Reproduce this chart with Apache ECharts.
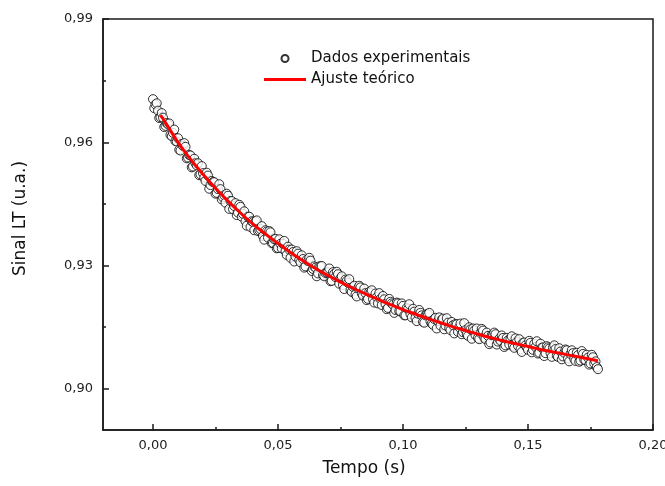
<!DOCTYPE html>
<html>
<head>
<meta charset="utf-8">
<script src="https://cdn.jsdelivr.net/npm/echarts@6/dist/echarts.min.js"></script>
<style>
  html, body { margin: 0; padding: 0; background: #fff; }
  #chart { width: 665px; height: 486px; }
</style>
</head>
<body>
<div id="chart"></div>
<script>
// experimental points, whole milliseconds: time (s) and LT signal (u.a.)
var tempo = [
  0.000,0.001,0.002,0.003,0.004,0.005,0.006,0.007,0.008,0.009,
  0.010,0.011,0.012,0.013,0.014,0.015,0.016,0.017,0.018,0.019,
  0.020,0.021,0.022,0.023,0.024,0.025,0.026,0.027,0.028,0.029,
  0.030,0.031,0.032,0.033,0.034,0.035,0.036,0.037,0.038,0.039,
  0.040,0.041,0.042,0.043,0.044,0.045,0.046,0.047,0.048,0.049,
  0.050,0.051,0.052,0.053,0.054,0.055,0.056,0.057,0.058,0.059,
  0.060,0.061,0.062,0.063,0.064,0.065,0.066,0.067,0.068,0.069,
  0.070,0.071,0.072,0.073,0.074,0.075,0.076,0.077,0.078,0.079,
  0.080,0.081,0.082,0.083,0.084,0.085,0.086,0.087,0.088,0.089,
  0.090,0.091,0.092,0.093,0.094,0.095,0.096,0.097,0.098,0.099,
  0.100,0.101,0.102,0.103,0.104,0.105,0.106,0.107,0.108,0.109,
  0.110,0.111,0.112,0.113,0.114,0.115,0.116,0.117,0.118,0.119,
  0.120,0.121,0.122,0.123,0.124,0.125,0.126,0.127,0.128,0.129,
  0.130,0.131,0.132,0.133,0.134,0.135,0.136,0.137,0.138,0.139,
  0.140,0.141,0.142,0.143,0.144,0.145,0.146,0.147,0.148,0.149,
  0.150,0.151,0.152,0.153,0.154,0.155,0.156,0.157,0.158,0.159,
  0.160,0.161,0.162,0.163,0.164,0.165,0.166,0.167,0.168,0.169,
  0.170,0.171,0.172,0.173,0.174,0.175,0.176,0.177,0.178
];
var sinal = [
  0.9705,0.9692,0.9677,0.9661,0.9660,0.9640,0.9644,0.9618,0.9623,0.9603,
  0.9610,0.9580,0.9591,0.9589,0.9563,0.9568,0.9541,0.9549,0.9549,0.9522,
  0.9525,0.9506,0.9519,0.9496,0.9503,0.9475,0.9486,0.9486,0.9466,0.9453,
  0.9470,0.9457,0.9437,0.9452,0.9429,0.9443,0.9426,0.9408,0.9419,0.9394,
  0.9406,0.9407,0.9384,0.9389,0.9372,0.9386,0.9368,0.9381,0.9355,0.9365,
  0.9343,0.9353,0.9353,0.9335,0.9346,0.9319,0.9333,0.9322,0.9329,0.9308,
  0.9316,0.9298,0.9311,0.9312,0.9292,0.9295,0.9281,0.9298,0.9277,0.9282,
  0.9284,0.9262,0.9284,0.9272,0.9279,0.9269,0.9253,0.9266,0.9258,0.9240,
  0.9248,0.9230,0.9245,0.9247,0.9227,0.9233,0.9219,0.9234,0.9218,0.9232,
  0.9208,0.9219,0.9226,0.9207,0.9197,0.9212,0.9205,0.9192,0.9208,0.9189,
  0.9202,0.9179,0.9194,0.9182,0.9195,0.9173,0.9183,0.9185,0.9163,0.9179,
  0.9181,0.9164,0.9156,0.9173,0.9165,0.9154,0.9171,0.9154,0.9161,0.9143,
  0.9155,0.9158,0.9139,0.9159,0.9138,0.9143,0.9129,0.9145,0.9147,0.9131,
  0.9124,0.9136,0.9142,0.9121,0.9129,0.9113,0.9131,0.9133,0.9115,0.9117,
  0.9124,0.9106,0.9118,0.9122,0.9105,0.9123,0.9105,0.9096,0.9112,0.9106,
  0.9095,0.9112,0.9095,0.9102,0.9086,0.9110,0.9101,0.9087,0.9101,0.9087,
  0.9101,0.9097,0.9078,0.9091,0.9079,0.9096,0.9074,0.9085,0.9087,0.9068,
  0.9082,0.9069,0.9085,0.9070,0.9076,0.9062,0.9077,0.9067,0.9048
];

// experimental points, half milliseconds
var tempoMeio = [
  0.0005,0.0015,0.0025,0.0035,0.0045,0.0055,0.0065,0.0075,0.0085,0.0095,
  0.0105,0.0115,0.0125,0.0135,0.0145,0.0155,0.0165,0.0175,0.0185,0.0195,
  0.0205,0.0215,0.0225,0.0235,0.0245,0.0255,0.0265,0.0275,0.0285,0.0295,
  0.0305,0.0315,0.0325,0.0335,0.0345,0.0355,0.0365,0.0375,0.0385,0.0395,
  0.0405,0.0415,0.0425,0.0435,0.0445,0.0455,0.0465,0.0475,0.0485,0.0495,
  0.0505,0.0515,0.0525,0.0535,0.0545,0.0555,0.0565,0.0575,0.0585,0.0595,
  0.0605,0.0615,0.0625,0.0635,0.0645,0.0655,0.0665,0.0675,0.0685,0.0695,
  0.0705,0.0715,0.0725,0.0735,0.0745,0.0755,0.0765,0.0775,0.0785,0.0795,
  0.0805,0.0815,0.0825,0.0835,0.0845,0.0855,0.0865,0.0875,0.0885,0.0895,
  0.0905,0.0915,0.0925,0.0935,0.0945,0.0955,0.0965,0.0975,0.0985,0.0995,
  0.1005,0.1015,0.1025,0.1035,0.1045,0.1055,0.1065,0.1075,0.1085,0.1095,
  0.1105,0.1115,0.1125,0.1135,0.1145,0.1155,0.1165,0.1175,0.1185,0.1195,
  0.1205,0.1215,0.1225,0.1235,0.1245,0.1255,0.1265,0.1275,0.1285,0.1295,
  0.1305,0.1315,0.1325,0.1335,0.1345,0.1355,0.1365,0.1375,0.1385,0.1395,
  0.1405,0.1415,0.1425,0.1435,0.1445,0.1455,0.1465,0.1475,0.1485,0.1495,
  0.1505,0.1515,0.1525,0.1535,0.1545,0.1555,0.1565,0.1575,0.1585,0.1595,
  0.1605,0.1615,0.1625,0.1635,0.1645,0.1655,0.1665,0.1675,0.1685,0.1695,
  0.1705,0.1715,0.1725,0.1735,0.1745,0.1755,0.1765,0.1775
];
var sinalMeio = [
  0.9683,0.9695,0.9659,0.9671,0.9637,0.9647,0.9646,0.9615,0.9631,0.9602,
  0.9582,0.9596,0.9598,0.9561,0.9569,0.9539,0.9560,0.9544,0.9520,0.9542,
  0.9514,0.9526,0.9487,0.9506,0.9503,0.9477,0.9498,0.9461,0.9471,0.9475,
  0.9438,0.9457,0.9445,0.9423,0.9448,0.9419,0.9432,0.9397,0.9419,0.9408,
  0.9386,0.9410,0.9386,0.9396,0.9363,0.9383,0.9384,0.9355,0.9364,0.9342,
  0.9364,0.9342,0.9360,0.9326,0.9339,0.9339,0.9310,0.9335,0.9314,0.9325,
  0.9295,0.9314,0.9319,0.9287,0.9298,0.9274,0.9298,0.9299,0.9274,0.9283,
  0.9293,0.9263,0.9280,0.9285,0.9256,0.9274,0.9243,0.9263,0.9267,0.9236,
  0.9251,0.9225,0.9251,0.9232,0.9244,0.9216,0.9236,0.9240,0.9210,0.9223,
  0.9233,0.9204,0.9218,0.9194,0.9219,0.9208,0.9185,0.9210,0.9189,0.9208,
  0.9179,0.9197,0.9206,0.9174,0.9188,0.9165,0.9192,0.9179,0.9161,0.9182,
  0.9185,0.9159,0.9170,0.9147,0.9174,0.9168,0.9145,0.9172,0.9148,0.9163,
  0.9135,0.9157,0.9150,0.9133,0.9160,0.9133,0.9150,0.9122,0.9142,0.9147,
  0.9121,0.9146,0.9125,0.9137,0.9109,0.9131,0.9137,0.9108,0.9122,0.9130,
  0.9102,0.9124,0.9108,0.9128,0.9100,0.9114,0.9121,0.9090,0.9113,0.9101,
  0.9117,0.9089,0.9110,0.9116,0.9088,0.9100,0.9080,0.9104,0.9098,0.9078,
  0.9106,0.9081,0.9099,0.9072,0.9088,0.9094,0.9067,0.9094,0.9073,0.9088,
  0.9066,0.9092,0.9071,0.9083,0.9059,0.9083,0.9062,0.9053
];

// fitted curve
var tempoAjuste = [
  0.003,0.005,0.010,0.015,0.020,0.025,0.030,0.035,0.040,0.045,
  0.050,0.055,0.060,0.065,0.070,0.075,0.080,0.085,0.090,0.095,
  0.100,0.105,0.110,0.115,0.120,0.125,0.130,0.135,0.140,0.145,
  0.150,0.155,0.160,0.165,0.170,0.175,0.178
];
var ajuste = [
  0.9666,0.9648,0.9600,0.9559,0.9522,0.9488,0.9457,0.9428,0.9401,0.9377,
  0.9354,0.9332,0.9312,0.9293,0.9276,0.9260,0.9245,0.9231,0.9218,0.9205,
  0.9193,0.9182,0.9171,0.9161,0.9151,0.9142,0.9133,0.9125,0.9117,0.9110,
  0.9103,0.9096,0.9090,0.9084,0.9078,0.9072,0.9068
];

// ticks
var xTicks = [0.00, 0.05, 0.10, 0.15, 0.20];
var xMinorTicks = [0.025, 0.075, 0.125, 0.175];
var yTicks = [0.90, 0.93, 0.96, 0.99];
var yMinorTicks = [0.915, 0.945, 0.975];

var fonte = "DejaVu Sans";
function virgula(v) {
  return v.toFixed(2).replace(".", ",");
}

var dadosExp = [];
tempo.forEach(function (t, i) {
  dadosExp.push([t, sinal[i]]);
  if (i < tempoMeio.length) dadosExp.push([tempoMeio[i], sinalMeio[i]]);
});
var dadosAjuste = tempoAjuste.map(function (t, i) { return [t, ajuste[i]]; });

var cinza = "#1a1a1a";
var chart = echarts.init(document.getElementById("chart"), null, { renderer: "canvas" });
chart.setOption({
  animation: false,
  backgroundColor: "#fff",
  grid: {
    left: 103, right: 12, top: 19, bottom: 56,
    show: true, borderColor: cinza, borderWidth: 1.5,
    outerBoundsMode: "none"
  },
  legend: {
    left: 264, top: 51, padding: 0,
    orient: "vertical",
    itemWidth: 42, itemHeight: 7, itemGap: 6,
    textStyle: { fontFamily: fonte, fontSize: 15, color: "#111" },
    data: [
      { name: "Dados experimentais", icon: "circle" },
      { name: "Ajuste teórico", icon: "path://M0,0 L42,0 L42,3 L0,3 Z" }
    ]
  },
  xAxis: [
    {
      type: "value", min: -0.02, max: 0.20,
      position: "bottom",
      name: "Tempo (s)", nameLocation: "middle", nameGap: 30,
      nameTextStyle: { fontFamily: fonte, fontSize: 17, color: "#111", padding: [0, 28, 0, 0] },
      axisLine: { show: true, onZero: false, lineStyle: { color: cinza, width: 1.5 } },
      axisTick: { show: true, inside: true, length: 6, customValues: xTicks, lineStyle: { color: cinza, width: 1.5 } },
      axisLabel: { customValues: xTicks, margin: 9, fontFamily: fonte, fontSize: 13, color: "#222", formatter: virgula },
      splitLine: { show: false }
    },
    {
      type: "value", min: -0.02, max: 0.20,
      position: "bottom",
      axisLine: { show: false, onZero: false },
      axisTick: { show: true, inside: true, length: 3, customValues: xMinorTicks, lineStyle: { color: cinza, width: 1.5 } },
      axisLabel: { show: false },
      splitLine: { show: false }
    }
  ],
  yAxis: [
    {
      type: "value", min: 0.89, max: 0.99,
      position: "left",
      name: "Sinal LT (u.a.)", nameLocation: "middle", nameGap: 74,
      nameTextStyle: { fontFamily: fonte, fontSize: 17, color: "#111", padding: [0, 0, 0, 12] },
      axisLine: { show: true, onZero: false, lineStyle: { color: cinza, width: 1.5 } },
      axisTick: { show: true, inside: true, length: 6, customValues: yTicks, lineStyle: { color: cinza, width: 1.5 } },
      axisLabel: { customValues: yTicks, margin: 10, fontFamily: fonte, fontSize: 13, color: "#222", formatter: virgula },
      splitLine: { show: false }
    },
    {
      type: "value", min: 0.89, max: 0.99,
      position: "left",
      axisLine: { show: false, onZero: false },
      axisTick: { show: true, inside: true, length: 3, customValues: yMinorTicks, lineStyle: { color: cinza, width: 1.5 } },
      axisLabel: { show: false },
      splitLine: { show: false }
    }
  ],
  series: [
    {
      name: "Dados experimentais",
      type: "scatter",
      xAxisIndex: 0, yAxisIndex: 0,
      symbol: "circle",
      symbolSize: 9,
      itemStyle: { color: "#fff", borderColor: "#000", borderWidth: 1 },
      data: dadosExp,
      z: 2
    },
    {
      name: "Ajuste teórico",
      type: "line",
      xAxisIndex: 0, yAxisIndex: 0,
      smooth: true,
      symbol: "none",
      lineStyle: { color: "#ff0000", width: 3 },
      itemStyle: { color: "#ff0000" },
      data: dadosAjuste,
      z: 3
    }
  ]
});
</script>
</body>
</html>
